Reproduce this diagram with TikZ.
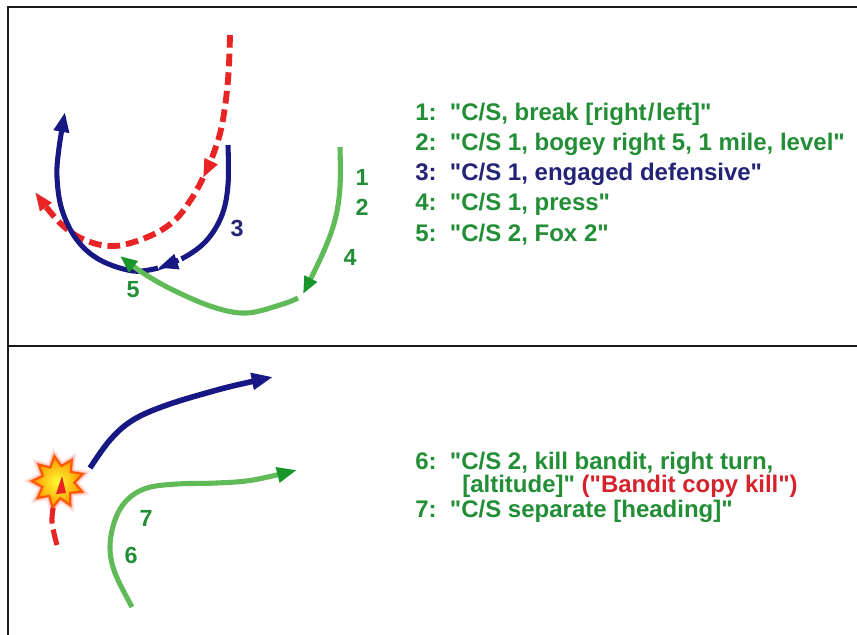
\documentclass[tikz,border=0pt]{standalone}
\usepackage{fontspec}
\setmainfont{Liberation Sans}
\usetikzlibrary{arrows.meta,shapes.geometric}
\definecolor{navyline}{RGB}{24,24,132}
\definecolor{navytext}{RGB}{36,36,118}
\definecolor{greenline}{RGB}{96,186,88}
\definecolor{greentip}{RGB}{24,150,44}
\definecolor{greentext}{RGB}{34,142,54}
\definecolor{redline}{RGB}{232,36,36}
\definecolor{redtext}{RGB}{214,34,44}
\definecolor{framegray}{RGB}{25,25,25}
\newcommand{\qt}{\textquotedbl}
\tikzset{
  frameline/.style={line width=2.2pt, draw=framegray},
  bluepath/.style={line width=3.8pt, draw=navyline},
  greenpath/.style={line width=3.8pt, draw=greenline},
  redpath/.style={line width=4.4pt, draw=redline, dash pattern=on 9.5pt off 4.5pt},
  bluetip/.style={-{Triangle[length=15pt,width=11pt,fill=navyline]}},
  greentipend/.style={-{Triangle[length=13pt,width=10pt,color=greentip]}},
  redtip/.style={-{Triangle[length=14pt,width=10pt,color=redline]}},
  gapmark/.style={draw=white, line width=2.2pt},
  callout/.style={font=\fontsize{18}{21}\selectfont\bfseries, inner sep=0pt, anchor=base west},
  numlabel/.style={font=\fontsize{17.5}{20}\selectfont\bfseries, inner sep=0pt},
}
\begin{document}
\begin{tikzpicture}[x=0.75pt,y=-0.75pt]
\useasboundingbox (0,0) rectangle (857,635);
\fill[white] (0,0) rectangle (857,635);

% panel frame
\draw[frameline] (8,635) -- (8,7) -- (857,7);
\draw[frameline] (8,346) -- (857,346);

% ---------- upper panel: defensive break ----------
% bandit (dashed red)
\draw[redpath, redtip] plot[smooth, tension=0.6] coordinates
  {(230,35) (228,80) (222,125) (213,155) (203,178)};
\draw[redpath, redtip] plot[smooth, tension=0.6] coordinates
  {(203,178) (192,198) (175,220) (150,236) (115,246) (85,240) (60,223) (35,192)};

% engaged fighter (blue)
\draw[bluepath, bluetip] plot[smooth, tension=0.6] coordinates
  {(228,145) (228,185) (222,215) (207,240) (185,257) (158,268)};
\draw[gapmark] (181.5,263) -- (177.5,254);
\draw[bluepath, bluetip] plot[smooth, tension=0.6] coordinates
  {(158,268) (133,271) (100,260) (77,240) (62,210) (57,177) (59,148) (65,112)};

% supporting fighter (green)
\draw[greenpath, greentipend] plot[smooth, tension=0.6] coordinates
  {(340,147) (340,187) (335,220) (323,253) (303,294)};
\draw[greenpath, greentipend] plot[smooth, tension=0.6] coordinates
  {(298,298) (283,304) (247,313) (213,307) (173,290) (143,273) (120,256)};

\node[numlabel, text=greentext] (n1) at (362,177) {1};
\node[numlabel, text=greentext] (n2) at (362,207) {2};
\node[numlabel, text=navytext]  (n3) at (237,228) {3};
\node[numlabel, text=greentext] (n4) at (350,257) {4};
\node[numlabel, text=greentext] (n5) at (133,290) {5};

\node[callout, text=greentext] (c1) at (415,120) {1:\ \ \qt C/S, break [right\kern1pt/\kern1pt left]\qt};
\node[callout, text=greentext] (c2) at (415,150) {2:\ \ \qt C/S 1, bogey right 5, 1 mile, level\qt};
\node[callout, text=navytext]  (c3) at (415,180) {3:\ \ \qt C/S 1, engaged defensive\qt};
\node[callout, text=greentext] (c4) at (415,210) {4:\ \ \qt C/S 1, press\qt};
\node[callout, text=greentext] (c5) at (415,241) {5:\ \ \qt C/S 2, Fox 2\qt};

% ---------- lower panel: kill and separate ----------
% explosion glow
\foreach \s/\o in {70/0.08,65/0.12,60/0.18,56/0.26}{
  \node[star, star points=9, star point ratio=1.6, minimum size=\s*0.75pt,
        fill=red!75!orange, opacity=\o, inner sep=0pt, rotate=8] at (58,482) {};
}
\node[star, star points=9, star point ratio=1.6, minimum size=52*0.75pt,
      inner sep=0pt, rotate=8, draw=orange!70!red, line width=1.6pt,
      inner color=yellow!80!white, outer color=orange!85!yellow] (blast) at (58,482) {};

% bandit remains
\draw[redpath, line width=3.8pt, dash pattern=on 12pt off 4.5pt]
  plot[smooth, tension=0.6] coordinates {(57,545) (52,522) (54,503)};
\fill[redline] (62,476) -- (56,494) -- (66,493) -- cycle;

% separating fighters
\draw[bluepath, line width=4.2pt, -{Triangle[length=16pt,width=12pt,fill=navyline]}]
  plot[smooth, tension=0.6] coordinates
  {(90,468) (110,440) (133,420) (167,405) (217,390) (250,382) (273,377)};
\draw[greenpath, -{Triangle[length=15pt,width=11pt,color=greentip]}]
  plot[smooth, tension=0.6] coordinates
  {(132,607) (115,573) (110,547) (115,520) (127,500) (147,488) (177,484) (217,483) (253,480) (297,470)};

\node[numlabel, text=greentext] (n7) at (146,518) {7};
\node[numlabel, text=greentext] (n6) at (131,555) {6};

\node[callout, text=greentext] (c6) at (415,469) {6:\ \ \qt C/S 2, kill bandit, right turn,};
\node[callout, text=greentext] (c6b) at (462,492) {[altitude]\qt\ \textcolor{redtext}{(\qt Bandit copy kill\qt)}};
\node[callout, text=greentext] (c7) at (415,517) {7:\ \ \qt C/S separate [heading]\qt};
\end{tikzpicture}
\end{document}
